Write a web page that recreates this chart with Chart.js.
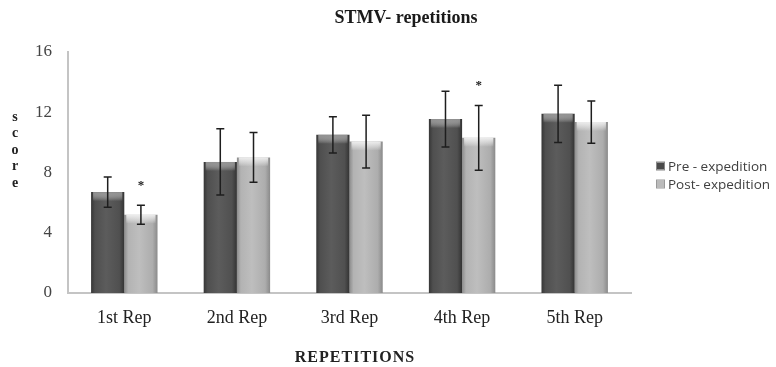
<!DOCTYPE html>
<html><head><meta charset="utf-8">
<script src="https://cdn.jsdelivr.net/npm/chart.js@4/dist/chart.umd.min.js"></script>
<style>html,body{margin:0;padding:0;background:#fff}#wrap{width:776px;height:367px;position:relative}</style>
</head><body><div id="wrap"><canvas id="c" width="776" height="367"></canvas></div>
<script>
const categories = ['1st Rep','2nd Rep','3rd Rep','4th Rep','5th Rep'];
const preValues  = [6.7, 8.7, 10.5, 11.55, 11.9];
const postValues = [5.2, 9.0, 10.05, 10.3, 11.35];
const preErrors  = [1.0, 2.2, 1.2, 1.85, 1.9];
const postErrors = [0.63, 1.65, 1.75, 2.15, 1.4];
const preSig  = [false,false,false,false,false];
const postSig = [true,false,false,true,false];
const yTicks = [0,4,8,12,16];
const seriesNames = ['Pre - expedition','Post- expedition'];
const titleText = 'STMV- repetitions';
const yTitle = 'score';
const xTitle = 'REPETITIONS';

const CAT_PCT = 0.59;
const palettes = [
  ['#363636','#4f4f4f','#5c5c5c','#505050','#333333'],
  ['#8c8c8c','#b3b3b3','#bebebe','#adadad','#8a8a8a']
];
function barFill(ctx){
  const chart = ctx.chart, ca = chart.chartArea, xs = chart.scales.x;
  const p = palettes[ctx.datasetIndex];
  if(!ca || !xs || ctx.dataIndex === undefined) return p[2];
  const center = xs.getPixelForValue(ctx.dataIndex);
  const catW = (ca.right - ca.left) / categories.length;
  const bw = catW * CAT_PCT / 2;
  const x0 = ctx.datasetIndex === 0 ? center - bw : center;
  const g = chart.ctx.createLinearGradient(x0, 0, x0 + bw, 0);
  g.addColorStop(0, p[0]); g.addColorStop(0.12, p[1]); g.addColorStop(0.45, p[2]);
  g.addColorStop(0.85, p[3]); g.addColorStop(1, p[4]);
  return g;
}

const errorPlugin = {
  id: 'extras',
  afterDatasetsDraw(chart){
    const c = chart.ctx, ys = chart.scales.y;
    const errs = [preErrors, postErrors], vals = [preValues, postValues], sigs = [preSig, postSig];
    for (let d = 0; d < 2; d++){
      chart.getDatasetMeta(d).data.forEach((el) => {
        const w = el.width, x0 = el.x - w/2, top = el.y;
        const g = c.createLinearGradient(0, top, 0, top + 9);
        g.addColorStop(0, d===0 ? 'rgba(150,150,150,0.9)' : 'rgba(240,240,240,0.95)');
        g.addColorStop(1, 'rgba(255,255,255,0)');
        c.save(); c.fillStyle = g; c.fillRect(x0 + 2, top, w - 4, 9); c.restore();
      });
    }
    c.save();
    c.strokeStyle = '#1e1e1e'; c.lineWidth = 1.5;
    for (let d = 0; d < 2; d++){
      const meta = chart.getDatasetMeta(d);
      meta.data.forEach((el, i) => {
        const x = el.x;
        const yt = ys.getPixelForValue(vals[d][i] + errs[d][i]);
        const yb = ys.getPixelForValue(vals[d][i] - errs[d][i]);
        c.beginPath();
        c.moveTo(x, yt); c.lineTo(x, yb);
        c.moveTo(x - 4, yt); c.lineTo(x + 4, yt);
        c.moveTo(x - 4, yb); c.lineTo(x + 4, yb);
        c.stroke();
        if (sigs[d][i]){
          c.fillStyle = '#222'; c.font = 'bold 13px "Liberation Serif"';
          c.textAlign = 'center'; c.textBaseline = 'middle';
          c.fillText('*', x, yt - 20);
        }
      });
    }
    c.restore();
  },
  afterDraw(chart){
    const c = chart.ctx;
    c.save();
    c.fillStyle = '#1a1a1a'; c.font = 'bold 18px "Liberation Serif"';
    c.textAlign = 'center'; c.textBaseline = 'middle';
    c.fillText(titleText, 406, 18);
    c.font = 'bold 14px "Liberation Serif"'; c.fillStyle = '#222';
    yTitle.split('').forEach((ch, i) => c.fillText(ch, 15, 117 + i * 16.5));
    c.font = 'bold 16px "Liberation Serif"'; c.fillStyle = '#222';
    try { c.letterSpacing = '1px'; } catch(e) {}
    c.fillText(xTitle, 355, 358);
    try { c.letterSpacing = '0px'; } catch(e) {}
    c.font = '13.5px "Open Sans"'; c.textAlign = 'left';
    const legCol = [['#4a4a4a','#888'],['#bbb','#999']];
    seriesNames.forEach((n, i) => {
      const y = 166 + i * 18;
      c.fillStyle = legCol[i][0]; c.fillRect(657, y - 3.5, 7, 7);
      c.strokeStyle = legCol[i][1]; c.lineWidth = 1; c.strokeRect(656.5, y - 4, 8, 8);
      c.fillStyle = '#404040'; c.fillText(n, 668, y + 1);
    });
    c.restore();
  }
};

new Chart(document.getElementById('c'), {
  type: 'bar',
  data: {
    labels: categories,
    datasets: [
      { label: seriesNames[0], data: preValues, backgroundColor: barFill, borderWidth: 0,
        categoryPercentage: CAT_PCT, barPercentage: 1.0 },
      { label: seriesNames[1], data: postValues, backgroundColor: barFill, borderWidth: 0,
        categoryPercentage: CAT_PCT, barPercentage: 1.0 }
    ]
  },
  options: {
    responsive: false, animation: false, devicePixelRatio: 1,
    layout: { padding: { top: 52, right: 145, bottom: 0, left: 0 } },
    plugins: { legend: { display: false }, title: { display: false }, tooltip: { enabled: false } },
    scales: {
      x: {
        grid: { display: false, drawTicks: false },
        border: { color: '#c4c4c4', width: 2 },
        ticks: { color: '#222', font: { family: 'Liberation Serif', size: 18 }, padding: 14, maxRotation: 0 },
        afterFit(s){ s.height = 74; }
      },
      y: {
        min: 0, max: 16,
        grid: { display: false, drawTicks: false },
        border: { color: '#c4c4c4', width: 2 },
        afterBuildTicks(s){ s.ticks = yTicks.map(v => ({ value: v })); },
        ticks: { color: '#444', font: { family: 'Liberation Serif', size: 17 }, padding: 16 },
        afterFit(s){ s.width = 68; }
      }
    }
  },
  plugins: [errorPlugin]
});
</script></body></html>
